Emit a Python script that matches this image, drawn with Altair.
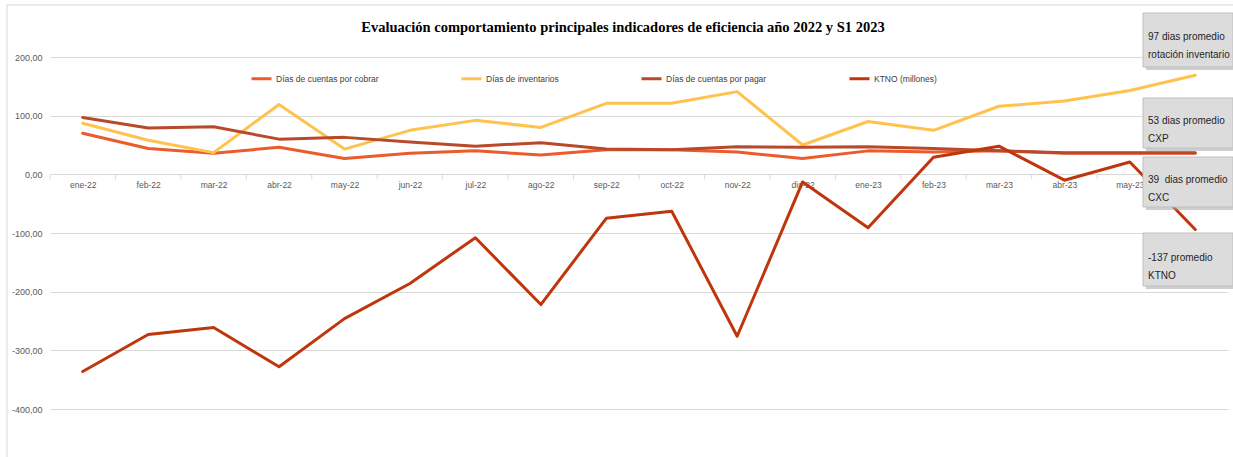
import altair as alt
import pandas as pd

MONTHS = ["ene-22", "feb-22", "mar-22", "abr-22", "may-22", "jun-22", "jul-22", "ago-22",
          "sep-22", "oct-22", "nov-22", "dic-22", "ene-23", "feb-23", "mar-23", "abr-23",
          "may-23", "jun-23"]
SERIES = ["Días de cuentas por cobrar", "Días de inventarios",
          "Días de cuentas por pagar", "KTNO (millones)"]
CXC = [70, 44, 36, 46, 27, 36, 40, 33, 42, 42, 38, 27, 40, 38, 40, 36, 36, 36]
INV = [87, 58, 37, 119, 43, 75, 92, 80, 121, 121, 141, 50, 90, 75, 116, 125, 143, 169]
CXP = [97, 79, 81, 60, 63, 55, 48, 54, 43, 42, 47, 46, 47, 44, 40, 37, 37, 37]
KTNO = [-336, -273, -261, -328, -246, -186, -108, -222, -75, -63, -276, -13, -91, 29, 48,
        -10, 21, -94]
Y_TICKS = [-400, -350, -300, -250, -200, -150, -100, -50, 0, 50, 100, 150, 200]
NOTES = [["97 dias promedio", "rotación inventario"],
         ["53 dias promedio", "CXP"],
         ["39\u00a0 dias promedio", "CXC"],
         ["-137 promedio", "KTNO"]]
TITLE = "Evaluación comportamiento principales indicadores de eficiencia año 2022 y S1 2023"

# styling
COLORS = ["#EC5B2C", "#FFC24D", "#B84A2B", "#BF360C"]
SANS = "Liberation Sans"
W, H = 1178, 352
# annotation boxes (plot-area pixels): x, y, x2, y2, text-centre y
BOXES = [(1093, -44, 1183, 10, -20), (1093, 41, 1183, 91, 64),
         (1093, 100, 1183, 150, 123), (1093, 176, 1183, 229, 201)]

rows = []
for name, vals in zip(SERIES, [CXC, INV, CXP, KTNO]):
    for i, v in enumerate(vals):
        rows.append({"idx": i, "month": MONTHS[i], "series": name, "value": v})
df = pd.DataFrame(rows)

label_expr = "[" + ",".join(f"'{m}'" for m in MONTHS) + "][datum.value]"
zero_px = H * 200 / 600

xscale = alt.Scale(domain=[-0.5, len(MONTHS) - 0.5], nice=False, zero=False)
yscale = alt.Scale(domain=[-400, 200], nice=False, zero=False)

lines = alt.Chart(df).mark_line(strokeWidth=3, strokeCap="round", strokeJoin="round").encode(
    x=alt.X("idx:Q", scale=xscale,
            axis=alt.Axis(values=list(range(len(MONTHS))), labelExpr=label_expr, grid=False,
                          ticks=False, domain=False, offset=-(H - zero_px), labelPadding=6,
                          labelFont=SANS, labelFontSize=8.5, labelColor="#595959", title=None,
                          labelFlush=False, labelOverlap=False)),
    y=alt.Y("value:Q", scale=yscale,
            axis=alt.Axis(values=Y_TICKS, format=".2f", grid=True, gridColor="#D9D9D9",
                          gridWidth=1, domain=False, ticks=False, labelPadding=8,
                          labelFont=SANS, labelFontSize=9, labelColor="#595959",
                          title=None)),
    color=alt.Color("series:N", scale=alt.Scale(domain=SERIES, range=COLORS),
                    legend=alt.Legend(orient="none", legendX=200, legendY=10,
                                      direction="horizontal", columns=4, columnPadding=76,
                                      title=None, symbolType="stroke", symbolSize=400,
                                      symbolStrokeWidth=3, labelFont=SANS, labelFontSize=8.5,
                                      labelColor="#404040", labelOffset=3)),
    detail="series:N",
)

tick_df = pd.DataFrame({"t": [i - 0.5 for i in range(len(MONTHS) + 1)]})
ticks = alt.Chart(tick_df).mark_rule(color="#D9D9D9", strokeWidth=1).encode(
    x=alt.X("t:Q", scale=xscale),
    y=alt.Y(datum=0),
    y2=alt.datum(-8.5),
)

one = pd.DataFrame({"a": [0]})
layers = []
border = alt.Chart(one).mark_rect(fill=None, stroke="#D9D9D9", strokeWidth=1).encode(
    x=alt.value(-43), x2=alt.value(1200), y=alt.value(-52), y2=alt.value(420))
layers.append(border)
title = alt.Chart(one).mark_text(align="center", baseline="middle", font="Liberation Serif",
                                 fontSize=14.5, fontWeight="bold", color="#000000").encode(
    x=alt.value(573), y=alt.value(-29), text=alt.value(TITLE))
layers.append(title)
layers.append(ticks)
layers.append(lines)
for (bx, by, bx2, by2, ty), note in zip(BOXES, NOTES):
    shadow = alt.Chart(one).mark_rect(fill="#A6A6A6", opacity=0.55).encode(
        x=alt.value(bx + 3), x2=alt.value(bx2 + 3), y=alt.value(by + 3), y2=alt.value(by2 + 3))
    box = alt.Chart(one).mark_rect(fill="#DCDCDC", stroke="#BFBFBF", strokeWidth=1).encode(
        x=alt.value(bx), x2=alt.value(bx2), y=alt.value(by), y2=alt.value(by2))
    txt = alt.Chart(one).mark_text(align="left", baseline="middle", lineHeight=18, font=SANS,
                                   fontSize=10, color="#1F1F1F").encode(
        x=alt.value(bx + 5), y=alt.value(ty), text=alt.value(note))
    layers += [shadow, box, txt]

chart = alt.layer(*layers).properties(
    width=W, height=H,
    autosize=alt.AutoSizeParams(type="none"),
    padding={"left": 50, "top": 57, "right": 5, "bottom": 48},
).configure(
    locale={"number": {"decimal": ",", "thousands": ".", "grouping": [3],
                       "currency": ["", ""], "minus": "-"}}
).configure_view(stroke=None)

chart.save("out.html", embed_options={"renderer": "svg", "actions": False})
